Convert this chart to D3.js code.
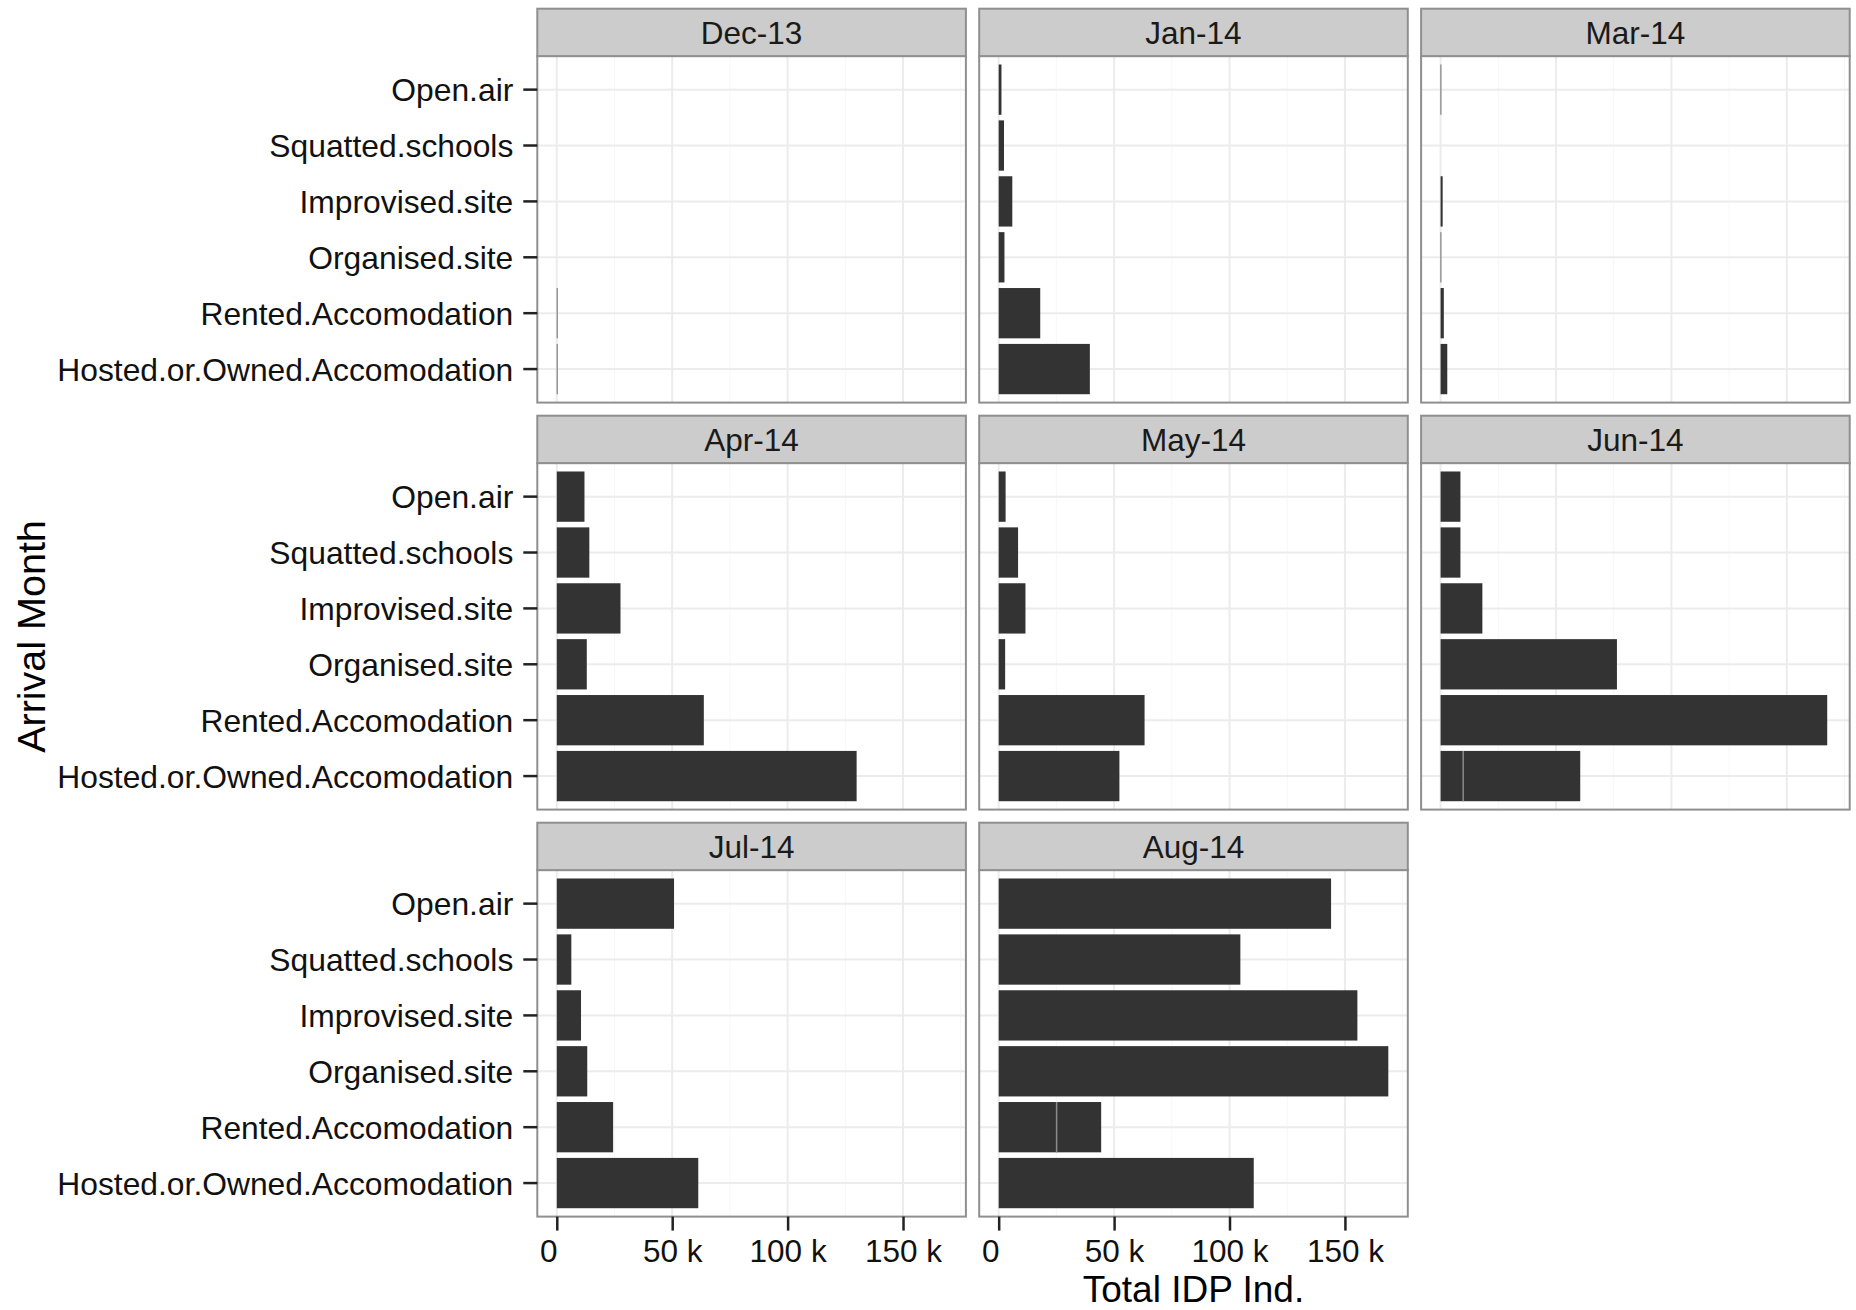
<!DOCTYPE html>
<html><head><meta charset="utf-8">
<script src="https://cdn.jsdelivr.net/npm/d3@7"></script>
<style>
body{margin:0;background:#fff}
text{font-family:"Liberation Sans",Arial,Helvetica,sans-serif}
</style>
</head><body><svg id="chart" width="1856" height="1310"></svg>
<script>
// ---- data ----
const shelterTypes = ["Open.air","Squatted.schools","Improvised.site","Organised.site","Rented.Accomodation","Hosted.or.Owned.Accomodation"];
const months = ["Dec-13","Jan-14","Mar-14","Apr-14","May-14","Jun-14","Jul-14","Aug-14"];
const valuesDec13 = [0, 0, 0, 0, 300, 300];
const valuesJan14 = [1200, 2300, 5900, 2500, 18000, 39500];
const valuesMar14 = [300, 0, 900, 300, 1400, 2900];
const valuesApr14 = [12000, 14100, 27600, 13000, 63700, 129900];
const valuesMay14 = [3000, 8400, 11600, 2800, 63200, 52300];
const valuesJun14 = [8600, 8600, 18100, 76400, 167500, 60500];
const valuesJul14 = [50800, 6300, 10500, 13200, 24400, 61300];
const valuesAug14 = [144000, 104700, 155400, 168800, 44400, 110500];
const monthValues = [valuesDec13, valuesJan14, valuesMar14, valuesApr14, valuesMay14, valuesJun14, valuesJul14, valuesAug14];
// bars that are made of two stacked records
const splitMonths = ["Jun-14", "Aug-14"];
const splitTypes = ["Hosted.or.Owned.Accomodation", "Rented.Accomodation"];
const splitFirstValues = [9800, 25100];
const xTickValues = [0, 50000, 100000, 150000];
const xMinorTickValues = [25000, 75000, 125000, 175000];
const xTitle = "Total IDP Ind.";
const yTitle = "Arrival Month";

// ---- layout ----
const L = {left:537.3, panelW:428.6, colGap:13.3, top:8.7, rowStep:407, stripH:47.4, panelH:346.5, ncol:3};
const fontSize = 31.5, yLabelSize = 31.8, titleSize = 37;
const barFill = "#333333", borderCol = "#8f8f8f", stripFill = "#cccccc";
const FF = '"Liberation Sans",Arial,Helvetica,sans-serif';

const svg = d3.select("#chart");
svg.append("rect").attr("width",1856).attr("height",1310).attr("fill","#fff");

const maxV = d3.max(monthValues, v => d3.max(v));
const fmt = d => d === 0 ? "0" : (d/1000) + " k";

months.forEach((m, i) => {
  const col = i % L.ncol, row = Math.floor(i / L.ncol);
  const px = L.left + col*(L.panelW + L.colGap);
  const sy = L.top + row*L.rowStep;
  const py = sy + L.stripH;
  const x = d3.scaleLinear().domain([-0.05*maxV, 1.05*maxV]).range([px, px + L.panelW]);
  const y = d3.scaleBand().domain(shelterTypes).range([py, py + L.panelH]).paddingInner(0.1).paddingOuter(0.15);
  const g = svg.append("g");

  g.append("rect").attr("x",px).attr("y",py).attr("width",L.panelW).attr("height",L.panelH).attr("fill","#fff");
  // minor grid
  g.selectAll(".mn").data(xMinorTickValues.filter(v => x(v) < px + L.panelW)).enter().append("line")
    .attr("x1",d=>x(d)).attr("x2",d=>x(d)).attr("y1",py).attr("y2",py+L.panelH)
    .attr("stroke","#f7f7f7").attr("stroke-width",1);
  // major grid
  g.selectAll(".mj").data(xTickValues).enter().append("line")
    .attr("x1",d=>x(d)).attr("x2",d=>x(d)).attr("y1",py).attr("y2",py+L.panelH)
    .attr("stroke","#ececec").attr("stroke-width",2);
  g.selectAll(".my").data(shelterTypes).enter().append("line")
    .attr("x1",px).attr("x2",px+L.panelW).attr("y1",d=>y(d)+y.bandwidth()/2).attr("y2",d=>y(d)+y.bandwidth()/2)
    .attr("stroke","#ececec").attr("stroke-width",2);

  // bars
  const vals = monthValues[i];
  g.selectAll(".bar").data(shelterTypes.map((t,k)=>({t, v: vals[k]})).filter(d=>d.v>0)).enter().append("rect")
    .attr("x", x(0)).attr("y", d=>y(d.t)).attr("height", y.bandwidth())
    .attr("width", d=>x(d.v)-x(0)).attr("fill", barFill);
  // dividers between stacked records
  const splits = splitMonths.map((sm,k)=>({m:sm, t:splitTypes[k], v:splitFirstValues[k]})).filter(d=>d.m===m);
  g.selectAll(".div").data(splits).enter().append("line")
    .attr("x1",d=>x(d.v)).attr("x2",d=>x(d.v)).attr("y1",d=>y(d.t)).attr("y2",d=>y(d.t)+y.bandwidth())
    .attr("stroke","#8a8a8a").attr("stroke-width",1.5);

  // panel border
  g.append("rect").attr("x",px).attr("y",py).attr("width",L.panelW).attr("height",L.panelH)
    .attr("fill","none").attr("stroke",borderCol).attr("stroke-width",2);
  // strip
  g.append("rect").attr("x",px).attr("y",sy).attr("width",L.panelW).attr("height",L.stripH)
    .attr("fill",stripFill).attr("stroke",borderCol).attr("stroke-width",2);
  g.append("text").attr("x",px+L.panelW/2).attr("y",sy+L.stripH/2 + 0.36*fontSize)
    .attr("text-anchor","middle").attr("font-size",fontSize).attr("fill","#1a1a1a").text(m);

  // y axis on first column
  if (col === 0) {
    const ay = g.append("g").attr("transform",`translate(${px},0)`)
      .call(d3.axisLeft(y).tickSize(14).tickPadding(10));
    ay.select(".domain").remove();
    ay.selectAll(".tick line").attr("stroke","#222").attr("stroke-width",2.5);
    ay.selectAll(".tick text").attr("font-size",yLabelSize).attr("fill","#111")
      .attr("font-family",FF).attr("dy","0.36em");
  }
  // x axis on bottom panels
  if (i >= months.length - 2) {
    const ax = g.append("g").attr("transform",`translate(0,${py+L.panelH})`)
      .call(d3.axisBottom(x).tickValues(xTickValues).tickFormat(fmt).tickSize(14).tickPadding(9));
    ax.select(".domain").remove();
    ax.selectAll(".tick line").attr("stroke","#222").attr("stroke-width",2.5);
    ax.selectAll(".tick text").attr("font-size",fontSize).attr("fill","#111")
      .attr("font-family",FF)
      .attr("dx", d => d === 0 ? -8.5 : 0);
  }
});

// axis titles
const plotLeft = L.left, plotRight = L.left + 3*L.panelW + 2*L.colGap;
svg.append("text").attr("x",(plotLeft+plotRight)/2).attr("y",1302)
  .attr("text-anchor","middle").attr("font-size",titleSize).attr("fill","#000").text(xTitle);
svg.append("text").attr("transform","translate(44.5,636.5) rotate(-90)")
  .attr("text-anchor","middle").attr("font-size",39.5).attr("fill","#000").text(yTitle);
</script>
</body></html>
